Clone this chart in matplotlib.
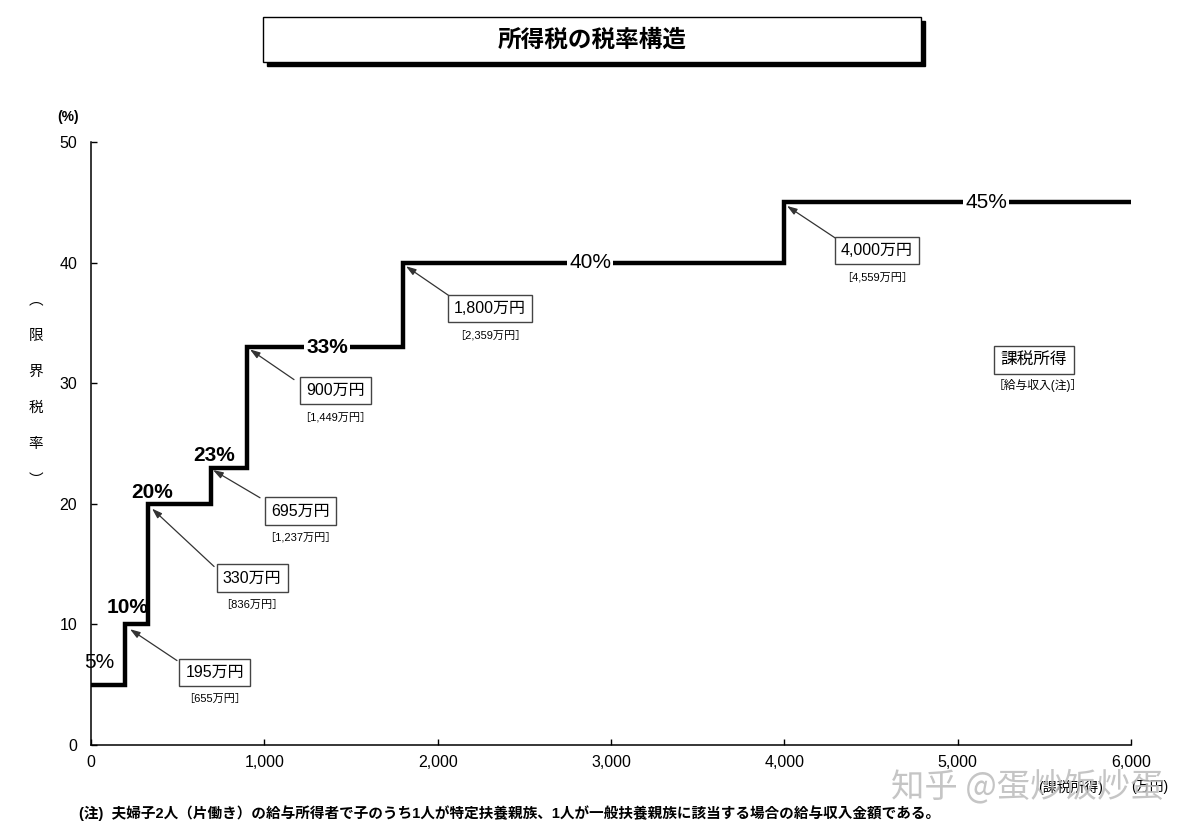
import numpy as np
import matplotlib.pyplot as plt
from matplotlib.patches import Rectangle
from matplotlib.ticker import FuncFormatter

plt.rcParams['font.family'] = ['Liberation Sans', 'Noto Sans CJK JP', 'DejaVu Sans']

# 課税所得の区切り (万円) と税率 (%)
thresholds = [0, 195, 330, 695, 900, 1800, 4000, 6000]
rates = [5, 10, 20, 23, 33, 40, 45, 45]
rate_labels = ['5%', '10%', '20%', '23%', '33%', '40%', '45%']
income_labels = ['195万円', '330万円', '695万円', '900万円', '1,800万円', '4,000万円']
salary_labels = ['[655万円]', '[836万円]', '[1,237万円]', '[1,449万円]', '[2,359万円]', '[4,559万円]']

fig = plt.figure(figsize=(12.04, 8.35), dpi=100)
ax = fig.add_axes([0.0756, 0.1078, 0.8638, 0.7221])

ax.step(thresholds, rates, where='post', color='black', lw=3.2,
        solid_joinstyle='miter', zorder=2)

ax.set_xlim(0, 6000)
ax.set_ylim(0, 50)
ax.set_xticks(np.arange(0, 6001, 1000))
ax.set_yticks(np.arange(0, 51, 10))
ax.xaxis.set_major_formatter(FuncFormatter(lambda v, p: f'{int(v):,}'))
ax.tick_params(direction='in', length=4, width=1, labelsize=11.5)
ax.tick_params(axis='y', pad=10)
ax.tick_params(axis='x', pad=7)
for s in ['top', 'right']:
    ax.spines[s].set_visible(False)
for s in ['left', 'bottom']:
    ax.spines[s].set_linewidth(1.1)

# 税率ラベル
rate_pos = [(50, 6.8), (208, 11.4), (352, 20.9), (710, 24.0), (1362, 33), (2879, 40), (5163, 45)]
for i, (lab, (x, y)) in enumerate(zip(rate_labels, rate_pos)):
    on_line = i >= 4
    ax.text(x, y, lab, ha='center', va='center', fontsize=15,
            fontweight='bold' if 0 < i < 5 else 'normal', zorder=4,
            bbox=dict(facecolor='white', edgecolor='none', pad=1.5) if on_line else None)

# 区切り注記
box_pos = [(713, 6.0), (929, 13.85), (1206, 19.4), (1408, 29.4), (2302, 36.2), (4535, 41.0)]
tails = [(496, 7.0), (710, 14.8), (975, 20.5), (1171, 30.3), (2071, 37.2), (4298, 42.0)]
tips = [(225, 9.6), (352, 19.6), (704, 22.8), (917, 32.8), (1817, 39.7), (4015, 44.7)]
for lab, sal, (bx, by), tail, tip in zip(income_labels, salary_labels, box_pos, tails, tips):
    ax.annotate('', xy=tip, xytext=tail, zorder=3,
                arrowprops=dict(arrowstyle='-|>,head_length=0.6,head_width=0.2',
                                color='#333333', lw=0.9, shrinkA=0, shrinkB=0))
    ax.text(bx, by, lab, ha='center', va='center', fontsize=11.5, zorder=5,
            bbox=dict(facecolor='white', edgecolor='#444444', lw=1, pad=4.5))
    ax.text(bx, by - 2.2, sal.replace('[', '［').replace(']', '］'), ha='center',
            va='center', fontsize=8, zorder=5)

ax.text(5440, 31.9, '課税所得', ha='center', va='center', fontsize=12,
        bbox=dict(facecolor='white', edgecolor='#444444', lw=1, pad=4.5))
ax.text(5460, 29.8, '［給与収入(注)］', ha='center', va='center', fontsize=8.5)

# タイトル枠
fig.patches.append(Rectangle((0.2217, 0.9209), 0.5465, 0.0539, transform=fig.transFigure,
                             facecolor='black', edgecolor='black', zorder=0))
fig.patches.append(Rectangle((0.2184, 0.9257), 0.5465, 0.0539, transform=fig.transFigure,
                             facecolor='white', edgecolor='black', lw=1, zorder=1))
fig.text(0.4917, 0.952, '所得税の税率構造', ha='center', va='center',
         fontsize=17, fontweight='bold', zorder=2)

# 縦軸ラベル
fig.text(0.0565, 0.860, '(%)', ha='center', va='center', fontsize=10, fontweight='bold')
for k, ch in enumerate(['︵', '限', '界', '税', '率', '︶']):
    fig.text(0.030, 1 - (300 + 36 * k) / 835, ch, ha='center', va='center', fontsize=10.5)

# 横軸ラベル
fig.text(0.889, 0.057, '(課税所得)', ha='center', va='center', fontsize=10)
fig.text(0.955, 0.057, '(万円)', ha='center', va='center', fontsize=10)

# 注記
fig.text(0.066, 0.026,
         '(注)  夫婦子2人（片働き）の給与所得者で子のうち1人が特定扶養親族、1人が一般扶養親族に該当する場合の給与収入金額である。',
         ha='left', va='center', fontsize=10.5, fontweight='bold')

# 透かし
fig.text(0.853, 0.058, '知乎 @蛋炒饭炒蛋', ha='center', va='center', fontsize=24,
         color='#bbbbbb', alpha=0.85, family=['Noto Sans CJK SC', 'DejaVu Sans'], zorder=10)

fig.savefig('out.png', dpi=100)
